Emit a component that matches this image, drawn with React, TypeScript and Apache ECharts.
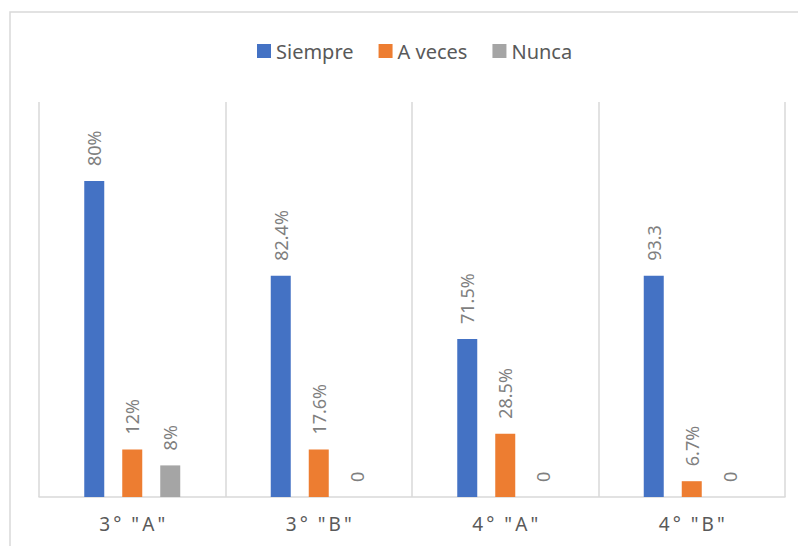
import React, { useEffect, useRef } from "react";
import * as echarts from "echarts";

const categories = [
  '3\u2009°  "\u2009A\u2009"',
  '3\u2009°  "\u2009B\u2009"',
  '4\u2009°  "\u2009A\u2009"',
  '4\u2009°  "\u2009B\u2009"',
];
const siempre = [20, 14, 10, 14];
const aVeces = [3, 3, 4, 1];
const nunca = [2, 0, 0, 0];
const siempreLabels = ["80%", "82.4%", "71.5%", "93.3"];
const aVecesLabels = ["12%", "17.6%", "28.5%", "6.7%"];
const nuncaLabels = ["8%", "0", "0", "0"];

const FONT = "Noto Sans";

function makeLabel(texts: string[]) {
  return {
    show: true,
    position: "top",
    rotate: 90,
    align: "left",
    verticalAlign: "middle",
    distance: 15,
    color: "#7f7f7f",
    fontSize: 18,
    fontFamily: FONT,
    formatter: (p: any) => texts[p.dataIndex],
  };
}

export default function App() {
  const ref = useRef<HTMLDivElement>(null);
  useEffect(() => {
    if (!ref.current) return;
    const chart = echarts.init(ref.current, undefined, { renderer: "svg" });
    chart.setOption({
      animation: false,
      backgroundColor: "#ffffff",
      graphic: [
        {
          type: "rect",
          z: 100,
          silent: true,
          shape: { x: 10, y: 12, width: 800, height: 560 },
          style: { fill: "transparent", stroke: "#d9d9d9", lineWidth: 1.5 },
        },
      ],
      legend: {
        top: 36,
        left: 252,
        itemWidth: 14,
        itemHeight: 14,
        itemGap: 25,
        icon: "rect",
        textStyle: { color: "#595959", fontSize: 20, fontFamily: FONT },
        data: ["Siempre", "A veces", "Nunca"],
      },
      grid: { left: 39, right: 13, top: 102, bottom: 49, containLabel: false },
      xAxis: {
        type: "category",
        data: categories,
        axisLine: { show: true, lineStyle: { color: "#d9d9d9", width: 1.5 } },
        axisTick: { show: false },
        splitLine: { show: true, lineStyle: { color: "#d9d9d9", width: 1.5 } },
        axisLabel: { color: "#595959", fontSize: 19, fontFamily: FONT, margin: 17 },
      },
      yAxis: {
        type: "value",
        min: 0,
        max: 25,
        show: false,
        splitLine: { show: false },
      },
      series: [
        {
          name: "Siempre",
          type: "bar",
          data: siempre,
          barWidth: 20,
          barGap: "90%",
          itemStyle: { color: "#4472C4" },
          label: makeLabel(siempreLabels),
        },
        {
          name: "A veces",
          type: "bar",
          data: aVeces,
          barWidth: 20,
          barGap: "90%",
          itemStyle: { color: "#ED7D31" },
          label: makeLabel(aVecesLabels),
        },
        {
          name: "Nunca",
          type: "bar",
          data: nunca,
          barWidth: 20,
          barGap: "90%",
          itemStyle: { color: "#A5A5A5" },
          label: makeLabel(nuncaLabels),
        },
      ],
    });
    return () => chart.dispose();
  }, []);
  return (
    <div
      ref={ref}
      style={{ position: "absolute", left: 0, top: 0, width: 798, height: 546 }}
    />
  );
}
